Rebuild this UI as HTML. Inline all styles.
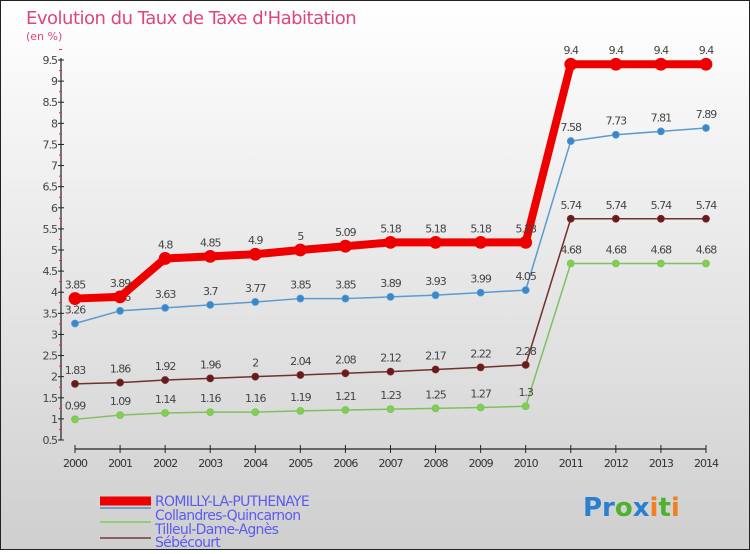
<!DOCTYPE html>
<html><head><meta charset="utf-8"><style>
body{margin:0}
#c{width:750px;height:550px;position:relative;font-family:"DejaVu Sans","Liberation Sans",sans-serif}
</style></head><body>
<div id="c">
<svg id="s" width="750" height="550" xmlns="http://www.w3.org/2000/svg">
<defs><linearGradient id="bg" x1="0" y1="0" x2="0" y2="1"><stop offset="0" stop-color="#ffffff"/><stop offset="1" stop-color="#cfcfcf"/></linearGradient></defs>
<rect x="0.5" y="0.5" width="749" height="549" fill="url(#bg)" stroke="#222"/>
<text x="26" y="24" font-size="18" fill="#e0457a" letter-spacing="-0.5">Evolution du Taux de Taxe d'Habitation</text>
<text x="26" y="40" font-size="11" fill="#e0457a">(en %)</text>
<g id="axes"></g><g id="series"></g>
<g>
<line x1="100" y1="501" x2="151" y2="501" stroke="#ee0000" stroke-width="9"/>
<text x="155" y="506" font-size="14" fill="#5b5bf0" letter-spacing="-0.7">ROMILLY-LA-PUTHENAYE</text>
<line x1="100" y1="508" x2="151" y2="508" stroke="#6fa0c8" stroke-width="2"/>
<text x="155" y="520" font-size="14" fill="#5b5bf0" letter-spacing="-0.7">Collandres-Quincarnon</text>
<line x1="100" y1="522" x2="151" y2="522" stroke="#90d070" stroke-width="2"/>
<text x="155" y="534" font-size="14" fill="#5b5bf0" letter-spacing="-0.7">Tilleul-Dame-Agnès</text>
<line x1="100" y1="538" x2="151" y2="538" stroke="#8a6060" stroke-width="2"/>
<text x="155" y="547" font-size="14" fill="#5b5bf0" letter-spacing="-0.7">Sébécourt</text>
</g>
<text x="583" y="516" font-size="26" font-weight="bold"><tspan fill="#2a7fd0">Pr</tspan><tspan fill="#50b030">o</tspan><tspan fill="#2a7fd0">x</tspan><tspan fill="#f08020">i</tspan><tspan fill="#50b030">t</tspan><tspan fill="#f08020">i</tspan></text>
</svg></div>
<script>
const years=[2000,2001,2002,2003,2004,2005,2006,2007,2008,2009,2010,2011,2012,2013,2014];
const romilly=[3.85,3.89,4.8,4.85,4.9,5,5.09,5.18,5.18,5.18,5.18,9.4,9.4,9.4,9.4];
const collandres=[3.26,3.56,3.63,3.7,3.77,3.85,3.85,3.89,3.93,3.99,4.05,7.58,7.73,7.81,7.89];
const tilleul=[0.99,1.09,1.14,1.16,1.16,1.19,1.21,1.23,1.25,1.27,1.3,4.68,4.68,4.68,4.68];
const sebecourt=[1.83,1.86,1.92,1.96,2,2.04,2.08,2.12,2.17,2.22,2.28,5.74,5.74,5.74,5.74];
const yTicks=[0.5,1,1.5,2,2.5,3,3.5,4,4.5,5,5.5,6,6.5,7,7.5,8,8.5,9,9.5];
const NS="http://www.w3.org/2000/svg";
const x=i=>75+i*45.07;
const y=v=>440-(v-0.5)*42.22;
function mk(tag,a,p){const e=document.createElementNS(NS,tag);for(const k in a)e.setAttribute(k,a[k]);p.appendChild(e);return e;}
const ax=document.getElementById('axes'),se=document.getElementById('series');
let l=mk('line',{x1:61,y1:58,x2:61,y2:440,stroke:'#222','stroke-width':1.2},ax);


yTicks.forEach(t=>{
 mk('line',{x1:58,x2:64,y1:y(t),y2:y(t),stroke:'#222'},ax);
 mk('line',{x1:59,x2:62,y1:y(t+0.25),y2:y(t+0.25),stroke:'#e03030'},ax);
 const tx=mk('text',{x:57,y:y(t)+4,'font-size':11,fill:'#444','text-anchor':'end','letter-spacing':'-1'},ax);
 tx.textContent=t;
 
 
});
l=mk('line',{x1:75,y1:449,x2:x(14),y2:449,stroke:'#222','stroke-width':1.2},ax);


years.forEach((yr,i)=>{
 mk('line',{x1:x(i),x2:x(i),y1:445,y2:453,stroke:'#222'},ax);
 const tx=mk('text',{x:x(i),y:467,'font-size':11,fill:'#333','text-anchor':'middle','letter-spacing':'-1'},ax);
 tx.textContent=yr;
 
 
});
function draw(vals,name,color,fill,w,r){
 const g=mk('g',{},se);
 
 
 const pl=mk('polyline',{points:vals.map((v,i)=>x(i)+','+y(v)).join(' '),fill:'none',stroke:color,'stroke-width':w,'stroke-linejoin':'round'},g);
 
 
 vals.forEach((v,i)=>{
  const c=mk('circle',{cx:x(i),cy:y(v),r:r,fill:fill,stroke:color,'stroke-width':0.8},g);
  
  
  const t=mk('text',{x:x(i),y:y(v)-10,'font-size':11,fill:'#444','text-anchor':'middle','letter-spacing':'-1'},g);
  t.textContent=v;
  
  
 });
}
draw(tilleul,'tilleul','#80c060','#80d050',1.5,3.5);
draw(sebecourt,'sebecourt','#703030','#6a1a1a',1.5,3.5);
draw(collandres,'collandres','#5b9ad0','#3a88cc',1.5,3.5);
draw(romilly,'romilly','#ee0000','#ee0000',8,6);
</script>
</body></html>
